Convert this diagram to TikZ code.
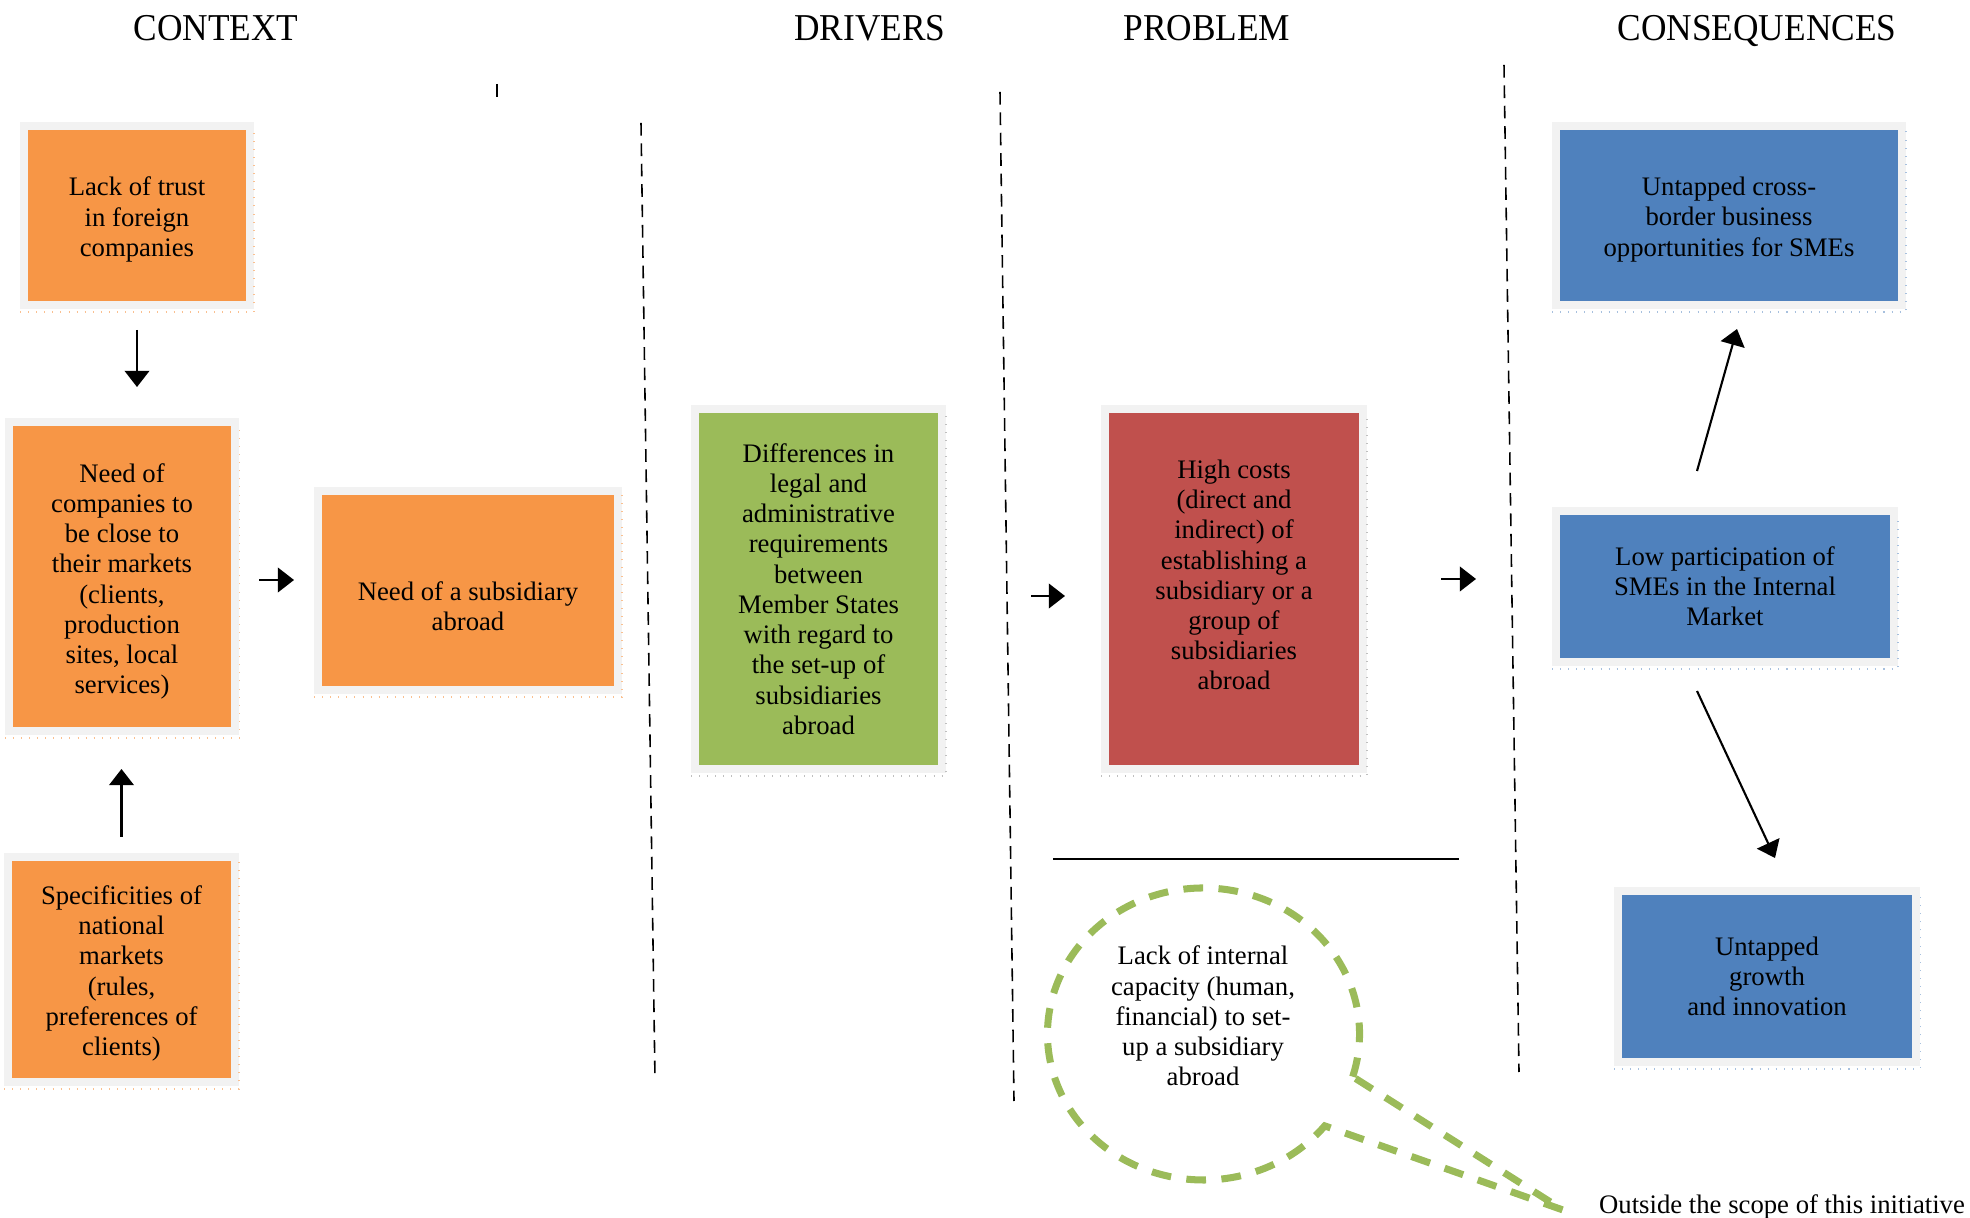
\documentclass[tikz,border=0pt]{standalone}
\usepackage{fontspec}
\setmainfont{Liberation Serif}
\newfontfamily\headfont[FakeStretch=0.93]{Liberation Serif}
\usetikzlibrary{arrows.meta,calc,positioning}

\newcommand\boxsize{\fontsize{7.6}{8.6}\selectfont}
\newcommand\headsize{\headfont\fontsize{10.8}{13}\selectfont}

\begin{document}
\begin{tikzpicture}[x=0.1mm, y=-0.1mm]
\definecolor{ctx}{HTML}{F79646}
\definecolor{drv}{HTML}{9BBB59}
\definecolor{prb}{HTML}{C0504D}
\definecolor{csq}{HTML}{4F81BD}
\definecolor{framegray}{HTML}{F2F2F2}
\tikzset{
     box/.style={inner sep=0pt, outer sep=0pt, align=center, font=\boxsize,
                 preaction={draw=framegray, line width=4.56pt}},
     boxtext/.style={inner sep=0pt, align=center, font=\boxsize},
     head/.style={anchor=base, font=\headsize},
     arr/.style={-{Triangle[width=7pt,length=4.6pt]}, line width=0.6pt},
     divider/.style={dash pattern=on 3.6pt off 2.2pt, line width=0.45pt},
     edge/.style={dotted, line width=0.3pt},
     callout/.style={draw=drv, line width=2pt, dash pattern=on 5.6pt off 4.4pt}}

\useasboundingbox (0,0) rectangle (1970,1218);

% Headings
\node[head] (hctx) at (216,41) {CONTEXT};
\node[head] (hdrv) at (870,41) {DRIVERS};
\node[head] (hprb) at (1207,41) {PROBLEM};
\node[head] (hcsq) at (1757,41) {CONSEQUENCES};

% Dividers
\draw[line width=0.45pt] (497,84) -- (497,97);
\draw[divider] (641,123) -- (655,1080);
\draw[divider] (1000,92) -- (1014,1101);
\draw[divider] (1504,65) -- (1519,1072);

% Context
\node (trust) [box, fill=ctx, minimum width=21.8mm, minimum height=17.1mm] at (137,215.5) {};
\node (trusttext) [boxtext] at ($(trust)+(0,4)$) {Lack of trust\\in foreign\\companies};
\node (close) [box, fill=ctx, minimum width=21.85mm, minimum height=30.1mm] at (122,576.5) {};
\node (closetext) [boxtext] at ($(close)+(0,5)$)
  {Need of\\companies to\\be close to\\their markets\\(clients,\\production\\sites, local\\services)};
\node (specific) [box, fill=ctx, minimum width=21.9mm, minimum height=21.7mm] at (121.5,969.5) {};
\node (specifictext) [boxtext] at ($(specific)+(0,4)$)
  {Specificities of\\national\\markets\\(rules,\\preferences of\\clients)};
\node (subsid) [box, fill=ctx, minimum width=29.2mm, minimum height=19.1mm] at (468,590.5) {};
\node (subsidtext) [boxtext] at ($(subsid)+(0,16)$) {Need of a subsidiary\\abroad};

% Drivers and problem
\node (diff) [box, fill=drv, minimum width=23.9mm, minimum height=35.2mm] at (818.5,589)
  {Differences in\\legal and\\administrative\\requirements\\between\\Member States\\with regard to\\the set-up of\\subsidiaries\\abroad};
\node (cost) [box, fill=prb, minimum width=25mm, minimum height=35.2mm] at (1234,589) {};
\node (costtext) [boxtext] at ($(cost)+(0,-14)$)
  {High costs\\(direct and\\indirect) of\\establishing a\\subsidiary or a\\group of\\subsidiaries\\abroad};

% Consequences
\node (untapped) [box, fill=csq, minimum width=33.8mm, minimum height=17.1mm] at (1729,215.5) {};
\node (untappedtext) [boxtext] at ($(untapped)+(0,4)$)
  {Untapped cross-\\border business\\opportunities for SMEs};
\node (lowpart) [box, fill=csq, minimum width=33mm, minimum height=14.3mm] at (1725,586.5)
  {Low participation of\\SMEs in the Internal\\Market};
\node (growth) [box, fill=csq, minimum width=29mm, minimum height=16.3mm] at (1767,976.5)
  {Untapped\\growth\\and innovation};

% dotted shadow edges
\foreach \b/\c in {trust/ctx!60, close/ctx!60, specific/ctx!60, subsid/ctx!60,
                   diff/black!25, cost/black!25, untapped/csq!50, lowpart/csq!50, growth/csq!50}
  \draw[edge, draw=\c] ($(\b.south west)+(-8,11)$) -- ($(\b.south east)+(8,11)$) -- ($(\b.north east)+(8,0)$);

% Arrows
\draw[arr] ($(trust.south)+(0,29)$) -- ($(trust.south |- close.north)+(0,-39)$);
\draw[arr] ($(specific.north)+(0,-24)$) -- ($(specific.north |- close.south)+(0,42)$);
\draw[arr] ($(close.east)+(28,3.5)$) -- ($(subsid.west |- close.east)+(-28,3.5)$);
\draw[arr] ($(diff.east)+(93,7)$) -- ($(cost.west)+(-44,7)$);
\draw[arr] ($(cost.east)+(82,-10)$) -- ($(lowpart.west |- cost.east)+(-84,-10)$);
\draw[arr] ($(lowpart.north)+(-28,-44)$) -- ($(untapped.south)+(8,28)$);
\draw[arr] ($(lowpart.south)+(-28,33)$) -- ($(growth.north)+(8,-37)$);

% Outside the scope
\draw[line width=0.65pt] (1053,859) -- (1459,859);
\coordinate (bubble) at (1203.5,1034);
\coordinate (tip) at (1563,1210);
\draw[callout] ($(bubble)+({156*cos(17)},{146*sin(17)})$)
  arc[start angle=17, end angle=-321, x radius=156, y radius=146] -- (tip) -- cycle;
\node (capacity) [align=center, font=\boxsize] at (1203,1016)
  {Lack of internal\\capacity (human,\\financial) to set-\\up a subsidiary\\abroad};
\node (outside) [anchor=base, font=\boxsize] at (1782,1213) {Outside the scope of this initiative};
\end{tikzpicture}
\end{document}
